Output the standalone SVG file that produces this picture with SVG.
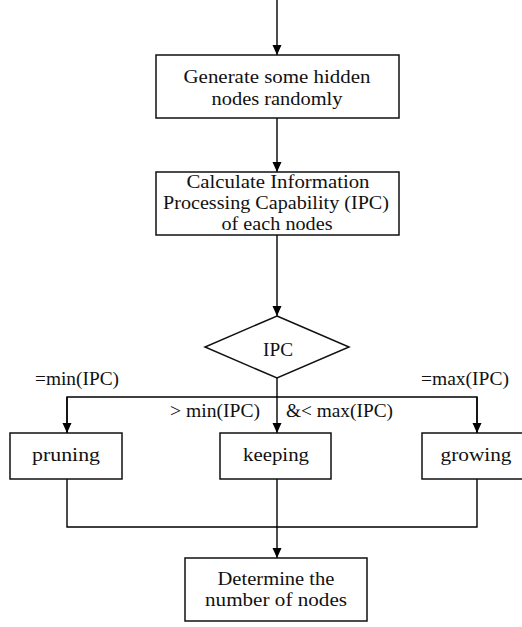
<svg xmlns="http://www.w3.org/2000/svg" width="522" height="627" viewBox="0 0 522 627">
<defs>
<marker id="arr" markerUnits="userSpaceOnUse" markerWidth="10" markerHeight="10" refX="10" refY="4.5" orient="auto">
<path d="M0,0 L10,4.5 L0,9 Z" fill="#000"/>
</marker>
<style>
.box{fill:#fff;stroke:#111;stroke-width:1.5}
.ln{fill:none;stroke:#000;stroke-width:1.4}
.ar{fill:none;stroke:#000;stroke-width:1.4;marker-end:url(#arr)}
text{font-family:"Liberation Serif","Times New Roman",serif;font-size:18px;fill:#111}
.c{text-anchor:middle}
</style>
</defs>
<rect width="522" height="627" fill="#fff"/>
<g id="connectors">
<line class="ar" x1="277" y1="0" x2="277" y2="55"/>
<line class="ar" x1="277" y1="118" x2="277" y2="172"/>
<line class="ar" x1="277" y1="235" x2="277" y2="316"/>
<line class="ln" x1="277" y1="378" x2="277" y2="397"/>
<polyline class="ln" points="67,433 67,397 477,397 477,433"/>
<line class="ar" x1="67" y1="397" x2="67" y2="433"/>
<line class="ar" x1="477" y1="397" x2="477" y2="433"/>
<line class="ar" x1="277" y1="397" x2="277" y2="433"/>
<polyline class="ln" points="67,479 67,527 477,527 477,479"/>
<line class="ar" x1="277" y1="479" x2="277" y2="558"/>
<text x="35" y="385" textLength="84" lengthAdjust="spacingAndGlyphs">=min(IPC)</text>
<text x="421" y="385" textLength="88" lengthAdjust="spacingAndGlyphs">=max(IPC)</text>
<text x="170" y="417" textLength="90" lengthAdjust="spacingAndGlyphs">&gt; min(IPC)</text>
<text x="286" y="417" textLength="107" lengthAdjust="spacingAndGlyphs">&amp;&lt; max(IPC)</text>
</g>
<g id="generate">
<rect class="box" x="156" y="55" width="243" height="63"/>
<text class="c" x="277" y="83" textLength="187" lengthAdjust="spacingAndGlyphs">Generate some hidden</text>
<text class="c" x="277" y="105" textLength="131" lengthAdjust="spacingAndGlyphs">nodes randomly</text>
</g>
<g id="calculate">
<rect class="box" x="156" y="172" width="243" height="63"/>
<text class="c" x="278" y="188" textLength="183" lengthAdjust="spacingAndGlyphs">Calculate Information</text>
<text class="c" x="276" y="209" textLength="226" lengthAdjust="spacingAndGlyphs">Processing Capability (IPC)</text>
<text class="c" x="277" y="230" textLength="111" lengthAdjust="spacingAndGlyphs">of each nodes</text>
</g>
<g id="ipc">
<polygon class="box" points="277,316 349,347 277,378 205,347"/>
<text class="c" x="278" y="356" textLength="30" lengthAdjust="spacingAndGlyphs">IPC</text>
</g>
<g id="pruning">
<rect class="box" x="10" y="433" width="112" height="46"/>
<text class="c" x="66" y="461" textLength="68" lengthAdjust="spacingAndGlyphs">pruning</text>
</g>
<g id="keeping">
<rect class="box" x="220" y="433" width="111" height="46"/>
<text class="c" x="276" y="461" textLength="66" lengthAdjust="spacingAndGlyphs">keeping</text>
</g>
<g id="growing">
<rect class="box" x="422" y="433" width="110" height="46"/>
<text class="c" x="476" y="461" textLength="71" lengthAdjust="spacingAndGlyphs">growing</text>
</g>
<g id="determine">
<rect class="box" x="185" y="558" width="182" height="63"/>
<text class="c" x="276" y="585" textLength="117" lengthAdjust="spacingAndGlyphs">Determine the</text>
<text class="c" x="276" y="606" textLength="142" lengthAdjust="spacingAndGlyphs">number of nodes</text>
</g>
</svg>
